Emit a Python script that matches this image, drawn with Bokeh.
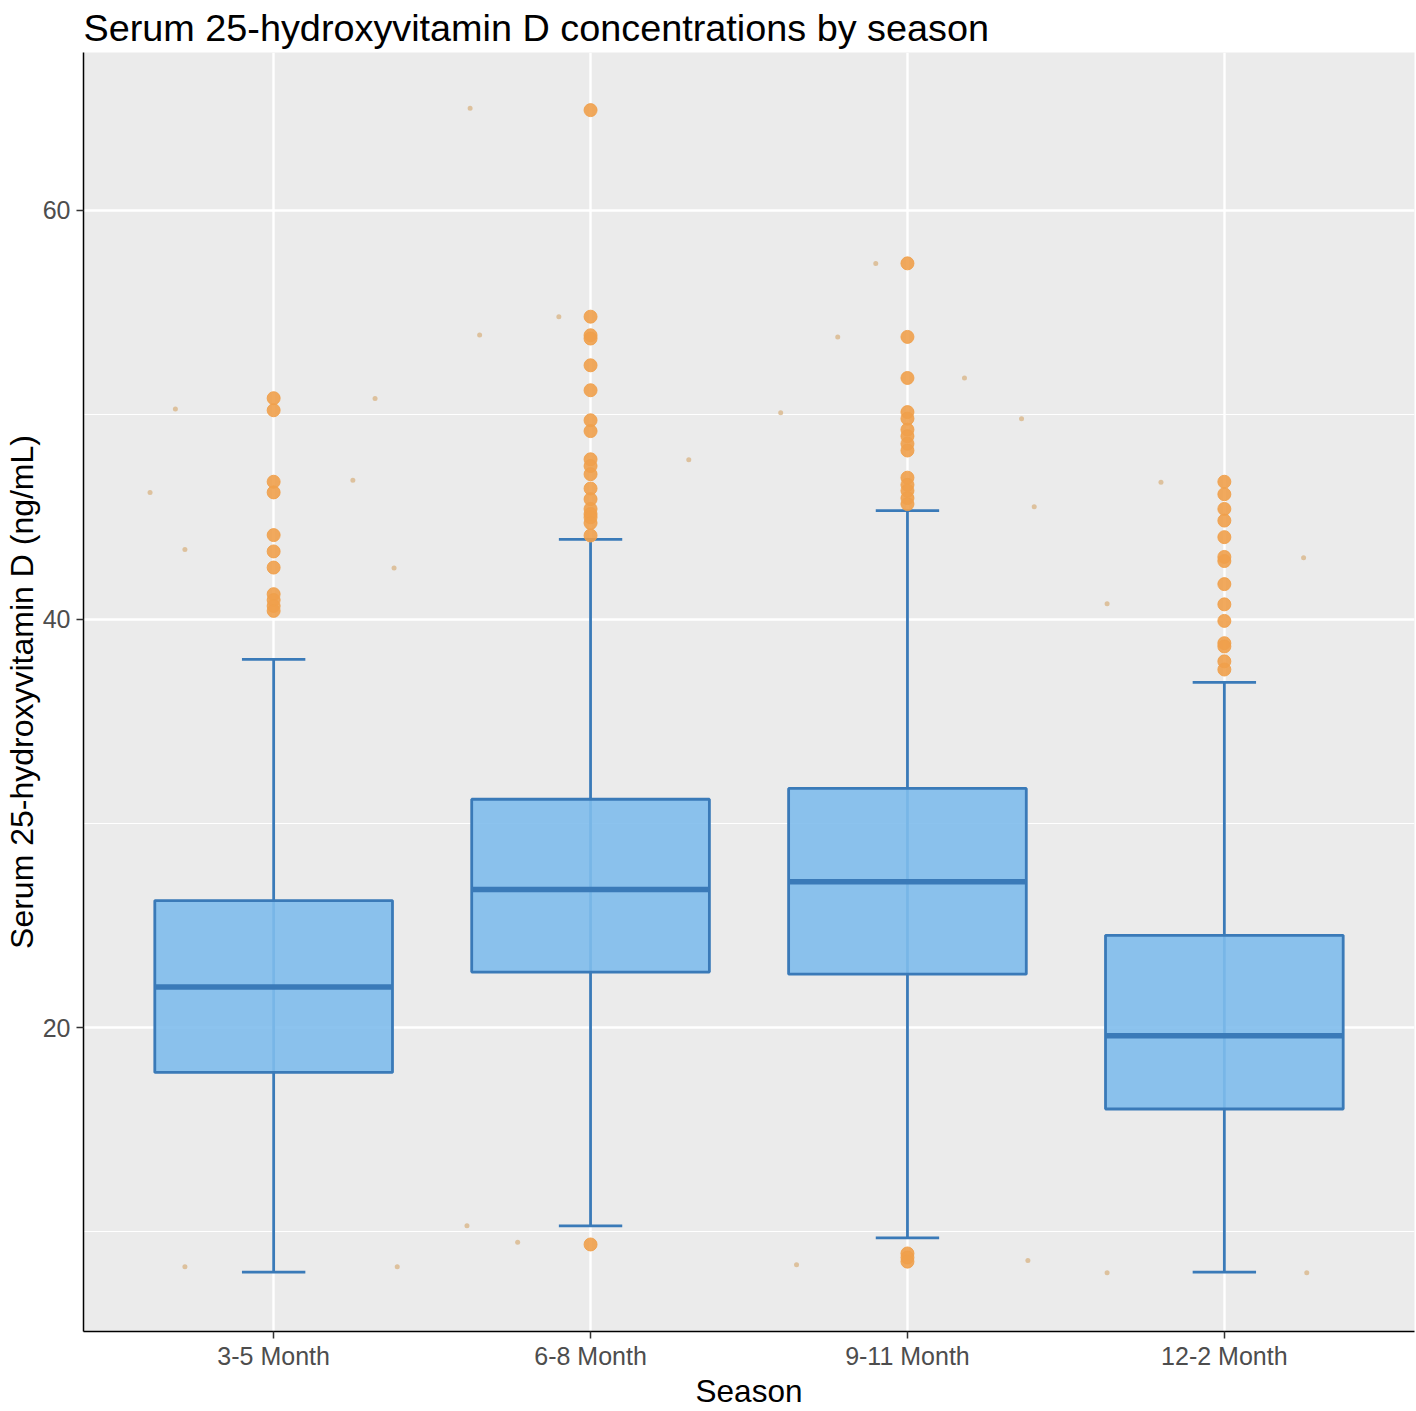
from bokeh.plotting import figure
from bokeh.models import Range1d, FixedTicker, Title
from bokeh.embed import file_html
from bokeh.resources import INLINE

# ---- data ----
seasons = ["3-5 Month", "6-8 Month", "9-11 Month", "12-2 Month"]
q1 = [17.81, 22.72, 22.62, 16.02]
median = [21.99, 26.76, 27.14, 19.61]
q3 = [26.22, 31.18, 31.71, 24.52]
whisk_low = [8.04, 10.30, 9.71, 8.04]
whisk_high = [38.03, 43.90, 45.31, 36.90]

outliers_3_5 = [50.81, 50.22, 46.72, 46.20, 44.11, 43.31, 42.52, 41.22, 40.93, 40.64, 40.40]
outliers_6_8 = [64.91, 54.80, 53.89, 53.73, 52.42, 51.20, 49.73, 49.20, 47.82, 47.49,
                47.09, 46.39, 45.87, 45.39, 45.14, 44.98, 44.70, 44.09, 9.39]
outliers_9_11 = [57.41, 53.81, 51.80, 50.13, 49.81, 49.27, 48.95, 48.58, 48.25, 46.92,
                 46.57, 46.28, 45.92, 45.63, 8.95, 8.75, 8.55]
outliers_12_2 = [46.72, 46.11, 45.39, 44.82, 44.01, 43.04, 42.84, 41.71, 40.72, 39.91,
                 38.82, 38.66, 37.93, 37.53]

# a few individually readable observations (season index, horizontal jitter, value)
obs_season = [1, 1, 1, 1, 1, 1, 1, 1,
              2, 2, 2, 2, 2, 2,
              3, 3, 3, 3, 3, 3, 3, 3,
              4, 4, 4, 4, 4]
obs_jitter = [-0.31, -0.39, -0.28, 0.32, 0.25, 0.38, -0.28, 0.39,
              -0.38, -0.35, -0.10, 0.31, -0.39, -0.23,
              -0.10, -0.22, 0.18, -0.40, 0.36, 0.40, -0.35, 0.38,
              -0.20, -0.37, 0.25, -0.37, 0.26]
obs_value = [50.28, 46.2, 43.4, 50.8, 46.8, 42.5, 8.3, 8.3,
             65.0, 53.9, 54.8, 47.8, 10.3, 9.5,
             57.4, 53.8, 51.8, 50.1, 49.8, 45.5, 8.4, 8.6,
             46.7, 40.75, 43.0, 8.0, 8.0]

y_ticks = [20, 40, 60]
y_minor = [10, 30, 50]

FONT = "Liberation Sans"

pos = [i + 1 for i in range(len(seasons))]
box_half = 0.375
cap_half = 0.1

p = figure(width=1416, height=1411, output_backend="svg", toolbar_location=None,
           x_range=Range1d(0.4, 4.6), y_range=Range1d(5.13, 67.73),
           min_border_left=80, min_border_right=2, min_border_top=52, min_border_bottom=71)

p.title = Title(text="Serum 25-hydroxyvitamin D concentrations by season",
                text_font=FONT, text_font_size="37.8px", text_font_style="normal",
                text_color="black", align="left", offset=0, standoff=8)

p.background_fill_color = "#EBEBEB"
p.border_fill_color = "white"
p.outline_line_color = None

# axes
p.xaxis.ticker = FixedTicker(ticks=pos)
p.xaxis.major_label_overrides = {i + 1: s for i, s in enumerate(seasons)}
p.yaxis.ticker = FixedTicker(ticks=y_ticks, minor_ticks=y_minor)
for ax in (p.xaxis[0], p.yaxis[0]):
    ax.axis_line_color = "black"
    ax.axis_line_width = 1.5
    ax.major_tick_line_color = "#333333"
    ax.major_tick_line_width = 1.5
    ax.major_tick_out = 7
    ax.major_tick_in = 0
    ax.minor_tick_line_color = None
    ax.major_label_text_font = FONT
    ax.major_label_text_font_size = "25px"
    ax.major_label_text_color = "#4D4D4D"
    ax.major_label_text_line_height = 1.0
    ax.axis_label_text_font = FONT
    ax.axis_label_text_font_style = "normal"
    ax.axis_label_text_color = "black"
    ax.axis_label_text_line_height = 1.0
p.xaxis.axis_label_text_font_size = "31.5px"
p.yaxis.axis_label_text_font_size = "32px"
p.xaxis.axis_label = "Season"
p.yaxis.axis_label = "Serum 25-hydroxyvitamin D (ng/mL)"
p.xaxis.major_label_standoff = 3
p.yaxis.major_label_standoff = 6
p.xaxis.axis_label_standoff = 0
p.yaxis.axis_label_standoff = 0

# grid
p.xgrid.grid_line_color = "white"
p.xgrid.grid_line_width = 2.4
p.ygrid.grid_line_color = "white"
p.ygrid.grid_line_width = 2.4
p.ygrid.minor_grid_line_color = "white"
p.ygrid.minor_grid_line_width = 1.2

BOX_LINE = "#3A7AB8"

# whisker line through the box
p.segment(x0=pos, x1=pos, y0=whisk_low, y1=whisk_high, line_color=BOX_LINE, line_width=2.8)
# caps
p.segment(x0=[x - cap_half for x in pos], x1=[x + cap_half for x in pos],
          y0=whisk_low, y1=whisk_low, line_color=BOX_LINE, line_width=2.8)
p.segment(x0=[x - cap_half for x in pos], x1=[x + cap_half for x in pos],
          y0=whisk_high, y1=whisk_high, line_color=BOX_LINE, line_width=2.8)
# boxes
p.quad(left=[x - box_half for x in pos], right=[x + box_half for x in pos],
       bottom=q1, top=q3, fill_color="#7FBCEC", fill_alpha=0.9,
       line_color=BOX_LINE, line_width=2.8)
# medians
p.segment(x0=[x - box_half for x in pos], x1=[x + box_half for x in pos],
          y0=median, y1=median, line_color=BOX_LINE, line_width=5.5)

# outliers
ox, oy = [], []
for i, arr in enumerate([outliers_3_5, outliers_6_8, outliers_9_11, outliers_12_2]):
    ox += [pos[i]] * len(arr)
    oy += arr
p.scatter(x=ox, y=oy, size=13, fill_color="#F0A04B", line_color="#F0A04B",
          fill_alpha=0.9, line_alpha=0.9)

# individual observations
p.scatter(x=[s + j for s, j in zip(obs_season, obs_jitter)], y=obs_value, size=5,
          fill_color="#D9B68A", line_color=None, fill_alpha=0.8)

open("out.html", "w").write(file_html(p, INLINE))
